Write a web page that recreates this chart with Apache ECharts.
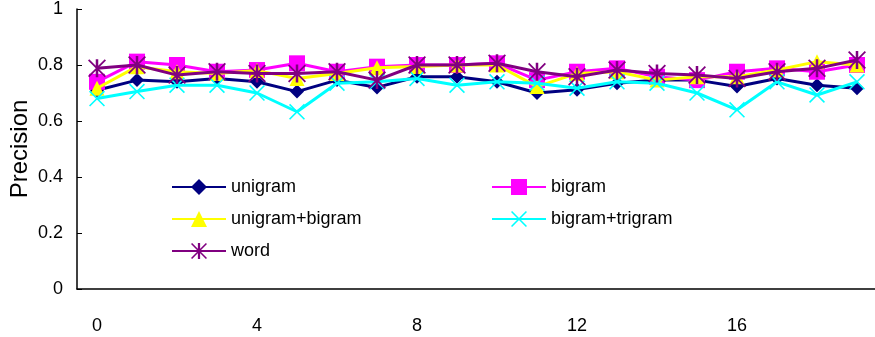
<!DOCTYPE html>
<html><head><meta charset="utf-8">
<script src="https://cdn.jsdelivr.net/npm/echarts@6/dist/echarts.min.js"></script>
<style>html,body{margin:0;padding:0;background:#fff}#c{width:875px;height:337px}</style>
</head><body><div id="c"></div>
<script>
const categories = ['0','1','2','3','4','5','6','7','8','9','10','11','12','13','14','15','16','17','18','19'];
const seriesNames = ['unigram','bigram','unigram+bigram','bigram+trigram','word'];
const unigram = [0.71,0.746,0.74,0.752,0.74,0.705,0.746,0.72,0.758,0.758,0.74,0.70,0.712,0.735,0.746,0.746,0.723,0.752,0.728,0.717];
const bigram = [0.74,0.812,0.80,0.776,0.782,0.806,0.776,0.794,0.80,0.80,0.806,0.746,0.776,0.788,0.758,0.746,0.776,0.788,0.776,0.80];
const unigramBigram = [0.717,0.794,0.776,0.77,0.78,0.752,0.77,0.79,0.795,0.80,0.80,0.723,0.77,0.776,0.746,0.758,0.758,0.782,0.812,0.80];
const bigramTrigram = [0.68,0.705,0.728,0.728,0.70,0.633,0.735,0.74,0.752,0.728,0.74,0.735,0.717,0.74,0.735,0.70,0.64,0.74,0.693,0.74];
const word = [0.788,0.80,0.764,0.776,0.77,0.77,0.776,0.746,0.80,0.80,0.806,0.776,0.758,0.782,0.77,0.764,0.752,0.776,0.788,0.818];
const yTicks = [0,0.2,0.4,0.6,0.8,1];

const crossPath = 'path://M0,7L7,0L100,93L93,100Z M93,0L100,7L7,100L0,93Z';
const starPath = 'path://M0,7L7,0L100,93L93,100Z M93,0L100,7L7,100L0,93Z M43,0L57,0L57,100L43,100Z';

const colors = ['#000080','#FF00FF','#FFFF00','#00FFFF','#800080'];
const datas = [unigram,bigram,unigramBigram,bigramTrigram,word];
const symbols = ['diamond','rect','triangle',crossPath,starPath];
const sizes = [14,16,15,16,18];

const chart = echarts.init(document.getElementById('c'));
const font = 'Liberation Sans, Arial, sans-serif';
const legendCommon = {orient:'vertical',top:173,itemGap:14,itemWidth:54,itemHeight:20,
  textStyle:{fontSize:18,color:'#000',fontFamily:font}};
chart.setOption({
  animation:false,
  textStyle:{fontFamily:font},
  grid:{left:77,top:9,width:800,height:280,containLabel:false,outerBoundsMode:'none'},
  legend:[
    Object.assign({left:166,data:['unigram','unigram+bigram','word']},legendCommon),
    Object.assign({left:486,data:['bigram','bigram+trigram']},legendCommon)
  ],
  xAxis:{type:'category',data:categories,boundaryGap:true,
    axisLine:{lineStyle:{color:'#000',width:1.5}},
    axisTick:{inside:true,length:5,interval:0,lineStyle:{color:'#000'}},
    axisLabel:{interval:3,fontSize:18,color:'#000',margin:28,fontFamily:font},
    splitLine:{show:false}},
  yAxis:{type:'value',min:0,max:1,interval:0.2,
    name:'Precision',nameLocation:'middle',nameGap:45,nameMoveOverlap:false,
    nameTextStyle:{fontSize:24,color:'#000',fontFamily:font},
    axisLine:{show:true,lineStyle:{color:'#000',width:1.5}},
    axisTick:{show:true,inside:true,length:5,lineStyle:{color:'#000'}},
    axisLabel:{fontSize:18,color:'#000',margin:14,fontFamily:font,
      formatter:v=>{const t=yTicks.find(x=>Math.abs(x-v)<1e-9);return (t===0||t===1)?String(t):v.toFixed(1);}},
    splitLine:{show:false}},
  series: seriesNames.map((n,i)=>({
    name:n,type:'line',data:datas[i],symbol:symbols[i],symbolSize:sizes[i],
    lineStyle:{color:colors[i],width:3},itemStyle:{color:colors[i]},color:colors[i],
    z:2+i
  }))
});
</script></body></html>
